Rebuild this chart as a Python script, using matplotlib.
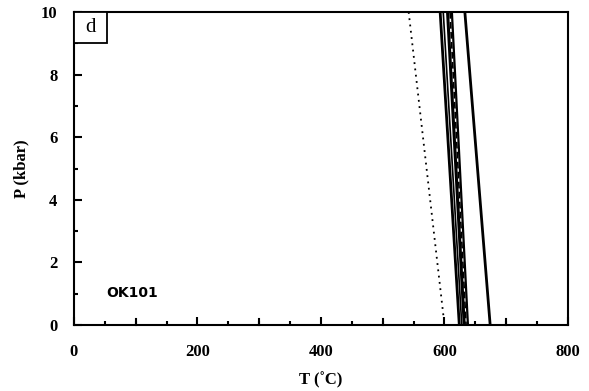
import matplotlib.pyplot as plt
from matplotlib.patches import Rectangle
from matplotlib.ticker import MultipleLocator

# Reaction lines: temperature at P=10 kbar and at P=0 kbar
p_ends = [10, 0]
solid_thick_1 = [593, 624]
solid_thin_1 = [598, 628]
solid_thick_2 = [605, 632]
dashed_line = [609, 635]
solid_thin_2 = [612, 638]
solid_thick_3 = [633, 674]
dotted_line = [542, 600]

plt.rcParams['font.family'] = ['Liberation Serif', 'DejaVu Serif']

fig = plt.figure(figsize=(5.89, 3.91), dpi=100)
ax = fig.add_axes([0.1256, 0.1688, 0.8387, 0.8005])

# Draw the lines
ax.plot(dotted_line, p_ends, color='black', linestyle=(0, (1, 2.5)), linewidth=1.3)
ax.plot(solid_thick_1, p_ends, color='black', linewidth=2.0)
ax.plot(solid_thin_1, p_ends, color='black', linewidth=1.2)
ax.plot(solid_thick_2, p_ends, color='black', linewidth=2.2)
ax.plot(dashed_line, p_ends, color='black', linewidth=1.2, linestyle=(0, (4, 2)))
ax.plot(solid_thin_2, p_ends, color='black', linewidth=1.6)
ax.plot(solid_thick_3, p_ends, color='black', linewidth=2.0)

ax.set_xlim(0, 800)
ax.set_ylim(0, 10)

# Ticks
ax.xaxis.set_major_locator(MultipleLocator(200))
ax.xaxis.set_minor_locator(MultipleLocator(50))
ax.yaxis.set_major_locator(MultipleLocator(2))
ax.yaxis.set_minor_locator(MultipleLocator(1))
ax.tick_params(which='both', direction='in', width=1.5, top=False, right=False)
ax.tick_params(which='major', length=6, labelsize=12)
ax.tick_params(axis='x', which='major', pad=14)
ax.tick_params(axis='y', which='major', pad=12)
ax.tick_params(which='minor', length=3)
# extra 100-unit ticks on x (same length as major)
for t in [100, 300, 500, 700]:
    ax.plot([t, t], [0, 0.19], color='black', linewidth=1.5, clip_on=False)
for lbl in ax.get_xticklabels() + ax.get_yticklabels():
    lbl.set_fontweight('bold')
for s in ax.spines.values():
    s.set_linewidth(1.5)

# Labels and Titles
ax.set_xlabel("T (˚C)", fontsize=12, fontweight='bold', labelpad=8)
ax.set_ylabel("P (kbar)", fontsize=12, fontweight='bold', labelpad=8)

# panel label box in the corner
ax.add_patch(Rectangle((0, 0.9), 0.067, 0.1, transform=ax.transAxes,
                       facecolor='white', edgecolor='black', linewidth=1.3, zorder=5))
ax.text(0.0335, 0.95, "d", transform=ax.transAxes, fontsize=15,
        ha='center', va='center', zorder=6)
ax.text(52, 0.9, "OK101", fontsize=10, fontweight='bold', family=['DejaVu Sans'])

fig.savefig("out.png", dpi=100)
